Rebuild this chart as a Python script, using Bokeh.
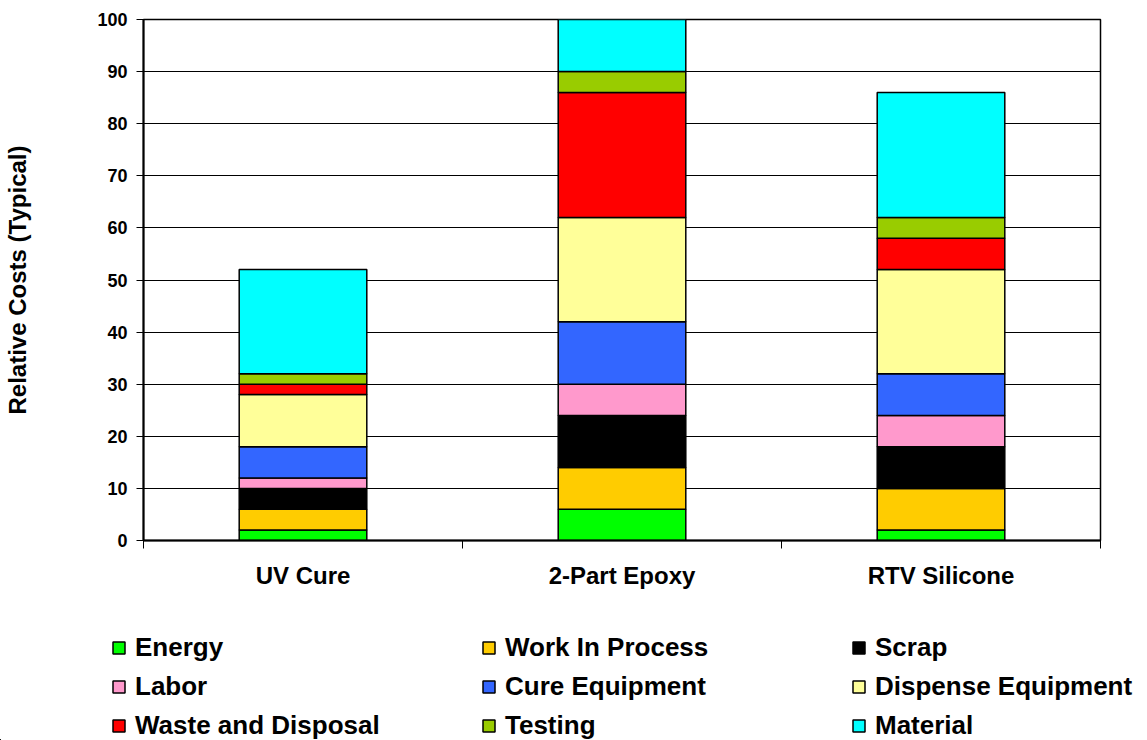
from bokeh.plotting import figure
from bokeh.models import FixedTicker, Legend, LegendItem, Range1d, ColumnDataSource
from bokeh.layouts import column
from bokeh.embed import file_html
from bokeh.resources import INLINE

# ---- data ----
categories = ["UV Cure", "2-Part Epoxy", "RTV Silicone"]
energy = [2, 6, 2]
work_in_process = [4, 8, 8]
scrap = [4, 10, 8]
labor = [2, 6, 6]
cure_equipment = [6, 12, 8]
dispense_equipment = [10, 20, 20]
waste_and_disposal = [2, 24, 6]
testing = [2, 4, 4]
material = [20, 10, 24]
y_ticks = list(range(0, 101, 10))

series_names = ["Energy", "Work In Process", "Scrap", "Labor", "Cure Equipment",
                "Dispense Equipment", "Waste and Disposal", "Testing", "Material"]
series_values = [energy, work_in_process, scrap, labor, cure_equipment,
                 dispense_equipment, waste_and_disposal, testing, material]
colors = ["#00FF00", "#FFCC00", "#000000", "#FF99CC", "#3366FF",
          "#FFFF99", "#FF0000", "#99CC00", "#00FFFF"]

keys = ["s%d" % i for i in range(len(series_names))]
centers = [i + 0.5 for i in range(len(categories))]
bounds = list(range(len(categories) + 1))

data = {"x": centers}
for k, v in zip(keys, series_values):
    data[k] = v
source = ColumnDataSource(data)

FONT = "Liberation Sans"

p = figure(width=1147, height=600,
           x_range=Range1d(0, len(categories)), y_range=Range1d(0, 100),
           output_backend="svg", toolbar_location=None,
           min_border_left=143, min_border_right=47,
           min_border_top=19, min_border_bottom=60)
p.frame_align = False

p.vbar_stack(keys, x="x", width=0.4, source=source,
             fill_color=colors, line_color="black", line_width=1.5)

# frame / grid
p.outline_line_color = "black"
p.outline_line_width = 1.5
p.xgrid.grid_line_color = None
p.ygrid.grid_line_color = "black"
p.ygrid.grid_line_width = 1
p.ygrid.ticker = FixedTicker(ticks=y_ticks)

# y axis
p.yaxis.ticker = FixedTicker(ticks=y_ticks)
p.yaxis.axis_line_color = "black"
p.yaxis.axis_line_width = 2
p.yaxis.major_tick_in = 0
p.yaxis.major_tick_out = 7
p.yaxis.major_tick_line_color = "black"
p.yaxis.minor_tick_line_color = None
p.yaxis.major_label_standoff = 9
p.yaxis.major_label_text_font = FONT
p.yaxis.major_label_text_font_style = "bold"
p.yaxis.major_label_text_font_size = "18px"
p.yaxis.major_label_text_color = "black"
p.yaxis.axis_label = "Relative Costs (Typical)"
p.yaxis.axis_label_text_font = FONT
p.yaxis.axis_label_text_font_style = "bold"
p.yaxis.axis_label_text_font_size = "24px"
p.yaxis.axis_label_text_color = "black"
p.yaxis.axis_label_standoff = 63

# x axis
p.xaxis.ticker = FixedTicker(ticks=centers, minor_ticks=bounds)
p.xaxis.major_label_overrides = {c: n for c, n in zip(centers, categories)}
p.xaxis.axis_line_color = "black"
p.xaxis.axis_line_width = 2
p.xaxis.major_tick_in = 0
p.xaxis.major_tick_out = 0
p.xaxis.major_tick_line_color = None
p.xaxis.minor_tick_in = 0
p.xaxis.minor_tick_out = 8
p.xaxis.minor_tick_line_color = "black"
p.xaxis.major_label_standoff = 13
p.xaxis.major_label_text_font = FONT
p.xaxis.major_label_text_font_style = "bold"
p.xaxis.major_label_text_font_size = "24px"
p.xaxis.major_label_text_color = "black"

# legend panel: a separate figure under the chart. Its stacked bars use the
# same data but lie far outside its visible ranges, so only the legend shows.
lg = figure(width=1147, height=140, x_range=Range1d(10, 11), y_range=Range1d(1000, 1100),
            output_backend="svg", toolbar_location=None,
            x_axis_type=None, y_axis_type=None,
            min_border_left=0, min_border_right=0, min_border_top=0, min_border_bottom=0)
lg.frame_align = False
lg.outline_line_color = None
lg.xgrid.grid_line_color = None
lg.ygrid.grid_line_color = None
proxies = lg.vbar_stack(keys, x="x", width=0.4, source=source,
                        fill_color=colors, line_color="black", line_width=1.5)
items = [LegendItem(label=n, renderers=[r]) for n, r in zip(series_names, proxies)]
legend = Legend(items=items, location=(111, -1), orientation="horizontal", ncols=3,
                glyph_width=15, glyph_height=15, label_standoff=9,
                label_width=338, label_height=30, spacing=8,
                padding=0, margin=0, border_line_color=None,
                background_fill_alpha=0,
                label_text_font=FONT, label_text_font_style="bold",
                label_text_font_size="26px", label_text_color="black")
lg.add_layout(legend, "center")

layout = column(p, lg, spacing=0)
open("out.html", "w").write(file_html(layout, INLINE))
